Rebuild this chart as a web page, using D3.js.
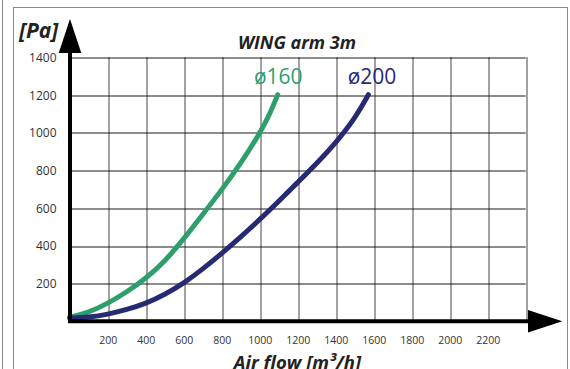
<!DOCTYPE html>
<html><head><meta charset="utf-8">
<script src="https://cdn.jsdelivr.net/npm/d3@7"></script>
<style>
html,body{margin:0;padding:0;background:#fff;}
svg{display:block;}
text{font-family:"Open Sans",sans-serif;}
</style></head>
<body>
<script>
// ---- data ----
const xTicks = [200,400,600,800,1000,1200,1400,1600,1800,2000,2200];
const xGrid = [200,400,600,800,1000,1200,1400,1600,1800,2000,2200,2400];
const yTicks = [200,400,600,800,1000,1200,1400];
const seriesNames = ["ø160","ø200"];
const flow160 = [0,100,200,300,400,500,600,700,800,900,1000,1050,1095];
const pa160   = [20,45,93,153,225,315,435,565,695,835,995,1090,1200];
const flow200 = [0,100,200,300,400,500,600,700,800,900,1000,1100,1200,1300,1400,1500,1572];
const pa200   = [15,20,35,60,92,140,200,275,358,445,538,635,735,835,945,1072,1200];
const title = "WING arm 3m";
const yTitle = "[Pa]";
const xTitle = "Air flow [m³/h]";

const W=570,H=369;
const svg=d3.select("body").append("svg").attr("width",W).attr("height",H);

// frames
svg.append("line").attr("x1",2.5).attr("x2",2.5).attr("y1",0).attr("y2",H).attr("stroke","#8a8a8a").attr("stroke-width",1);
svg.append("rect").attr("x",13.5).attr("y",7.5).attr("width",554).attr("height",H+10)
  .attr("fill","none").attr("stroke","#8a8a8a").attr("stroke-width",1);

const x=d3.scaleLinear().domain([0,2400]).range([69.7,525.7]);
const y=d3.scaleLinear().domain([0,1400]).range([321,57]);

// grid
const gx=svg.append("g").attr("transform","translate(0,321)")
  .call(d3.axisBottom(x).tickValues(xGrid).tickSize(-264).tickFormat(""));
gx.select(".domain").remove();
gx.selectAll("line").attr("stroke","#444").attr("stroke-width",1)
  .attr("transform",d=>`translate(${Math.round(x(d))+0.5-x(d)},0)`);
const gy=svg.append("g").attr("transform","translate(69.7,0)")
  .call(d3.axisLeft(y).tickValues(yTicks).tickSize(-456).tickFormat(""));
gy.select(".domain").remove();
gy.selectAll("line").attr("stroke","#1a1a1a").attr("stroke-width",1)
  .attr("transform",d=>`translate(0,${Math.round(y(d))+0.5-y(d)})`);

// tick labels
const lx=svg.append("g").attr("transform","translate(0,321)")
  .call(d3.axisBottom(x).tickValues(xTicks).tickSize(0).tickPadding(0).tickFormat(d3.format("d")));
lx.select(".domain").remove();
lx.selectAll("text").attr("y",23).attr("dy",0).attr("font-size","10.5px")
  .attr("fill","#333").attr("font-family","Open Sans, sans-serif");
const ly=svg.append("g").attr("transform","translate(56.5,0)")
  .call(d3.axisLeft(y).tickValues(yTicks).tickSize(0).tickPadding(0).tickFormat(d3.format("d")));
ly.select(".domain").remove();
ly.selectAll("text").attr("x",0).attr("dy","0.36em").attr("font-size","12px")
  .attr("fill","#333").attr("font-family","Open Sans, sans-serif");

// curves
const line=d3.line().x(d=>x(d[0])).y(d=>y(d[1])).curve(d3.curveBasis);
const colors=["#2e9e6b","#262a73"];
const data=[d3.zip(flow160,pa160), d3.zip(flow200,pa200)];
data.forEach((d,i)=>{
  svg.append("path").datum(d).attr("d",line).attr("fill","none")
    .attr("stroke",colors[i]).attr("stroke-width",5).attr("stroke-linecap","round");
});

// axes with arrows
svg.append("line").attr("x1",70).attr("x2",70).attr("y1",323).attr("y2",52).attr("stroke","#000").attr("stroke-width",4);
svg.append("path").attr("d","M70,19 L58.7,53 L81.3,53 Z").attr("fill","#000");
svg.append("line").attr("x1",68).attr("x2",529).attr("y1",321.3).attr("y2",321.3).attr("stroke","#000").attr("stroke-width",4);
svg.append("path").attr("d","M562.3,321.3 L528,310 L528,332.6 Z").attr("fill","#000");

// series labels
const labX=[278.3,372];
seriesNames.forEach((n,i)=>{
  svg.append("text").attr("x",labX[i]).attr("y",84).attr("text-anchor","middle")
    .attr("font-size","21px").attr("fill",colors[i]).text(n);
});

// titles
svg.append("text").attr("x",297).attr("y",48.5).attr("text-anchor","middle")
  .attr("font-size","18px").attr("font-weight","bold").attr("font-style","italic").attr("fill","#222").text(title);
svg.append("text").attr("x",19).attr("y",38)
  .attr("font-size","21px").attr("font-weight","bold").attr("font-style","italic").attr("fill","#222").text(yTitle);
svg.append("text").attr("x",297.5).attr("y",369)
  .attr("text-anchor","middle")
  .attr("font-size","18.5px").attr("font-weight","bold").attr("font-style","italic").attr("fill","#222").text(xTitle);
</script>
</body></html>
